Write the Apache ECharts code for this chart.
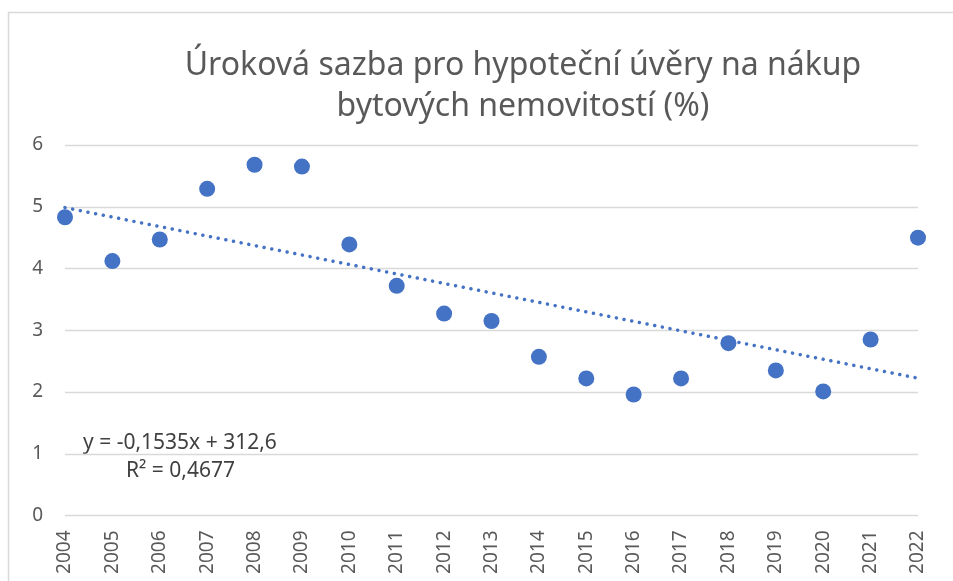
<!DOCTYPE html>
<html>
<head>
<meta charset="utf-8">
<script src="https://cdn.jsdelivr.net/npm/echarts@6/dist/echarts.min.js"></script>
<style>
  html, body { margin: 0; padding: 0; background: #fff; }
  #main { width: 953px; height: 581px; }
</style>
</head>
<body>
<div id="main"></div>
<script>
var years = [2004, 2005, 2006, 2007, 2008, 2009, 2010, 2011, 2012, 2013,
             2014, 2015, 2016, 2017, 2018, 2019, 2020, 2021, 2022];
var rates = [4.83, 4.12, 4.47, 5.29, 5.68, 5.65, 4.39, 3.72, 3.27, 3.15,
             2.57, 2.22, 1.96, 2.22, 2.79, 2.35, 2.01, 2.85, 4.50];
// trend line coefficients as printed on the chart
var trendSlope = -0.1535;
var trendIntercept = 312.6;
var trendLabel = ['y = -0,1535x + 312,6', 'R² = 0,4677'];
var titleText = 'Úroková sazba pro hypoteční úvěry na nákup\nbytových nemovitostí (%)';

var chartDom = document.getElementById('main');
var myChart = echarts.init(chartDom);
var option;

var points = years.map(function (y, i) { return [y, rates[i]]; });
var x0 = years[0], x1 = years[years.length - 1];
var trend = [[x0, trendSlope * x0 + trendIntercept], [x1, trendSlope * x1 + trendIntercept]];

var font = '"Noto Sans", "Open Sans", sans-serif';

option = {
  animation: false,
  title: {
    text: titleText,
    left: 518,
    top: 40,
    textAlign: 'center',
    textStyle: {
      fontFamily: font,
      fontWeight: 'normal',
      fontSize: 32,
      lineHeight: 41,
      color: '#595959'
    }
  },
  grid: {
    left: 65,
    right: 35,
    top: 145,
    bottom: 65.5,
    containLabel: false
  },
  xAxis: {
    type: 'value',
    min: 2004,
    max: 2022,
    interval: 1,
    axisLine: { show: false },
    axisTick: { show: false },
    splitLine: { show: false },
    axisLabel: {
      rotate: 90,
      margin: 15,
      fontFamily: font,
      fontSize: 19,
      color: '#595959',
      formatter: function (v) { return String(v); }
    }
  },
  yAxis: {
    type: 'value',
    min: 0,
    max: 6,
    interval: 1,
    axisLine: { show: false },
    axisTick: { show: false },
    splitLine: { lineStyle: { color: '#d9d9d9', width: 1.3 } },
    axisLabel: {
      margin: 22,
      fontFamily: font,
      fontSize: 19,
      color: '#595959'
    }
  },
  series: [
    {
      type: 'line',
      data: trend,
      symbol: 'none',
      silent: true,
      z: 2,
      lineStyle: {
        color: '#4472C4',
        width: 3.5,
        type: [0.01, 7.8],
        cap: 'round'
      }
    },
    {
      type: 'scatter',
      data: points,
      symbol: 'circle',
      symbolSize: 16,
      z: 3,
      itemStyle: { color: '#4472C4', opacity: 1 }
    }
  ],
  graphic: [
    {
      type: 'polyline',
      silent: true,
      shape: { points: [[8.5, 581], [8.5, 12.5], [953, 12.5]] },
      style: { stroke: '#d9d9d9', lineWidth: 1.5, fill: null }
    },
    {
      type: 'text',
      left: 83,
      top: 433,
      style: {
        text: trendLabel[0],
        fontFamily: font,
        fontSize: 21,
        fill: '#404040'
      }
    },
    {
      type: 'text',
      left: 126,
      top: 461,
      style: {
        text: trendLabel[1],
        fontFamily: font,
        fontSize: 21,
        fill: '#404040'
      }
    }
  ]
};

option && myChart.setOption(option);
window.addEventListener('resize', function () {
  myChart.resize();
});
</script>
</body>
</html>
